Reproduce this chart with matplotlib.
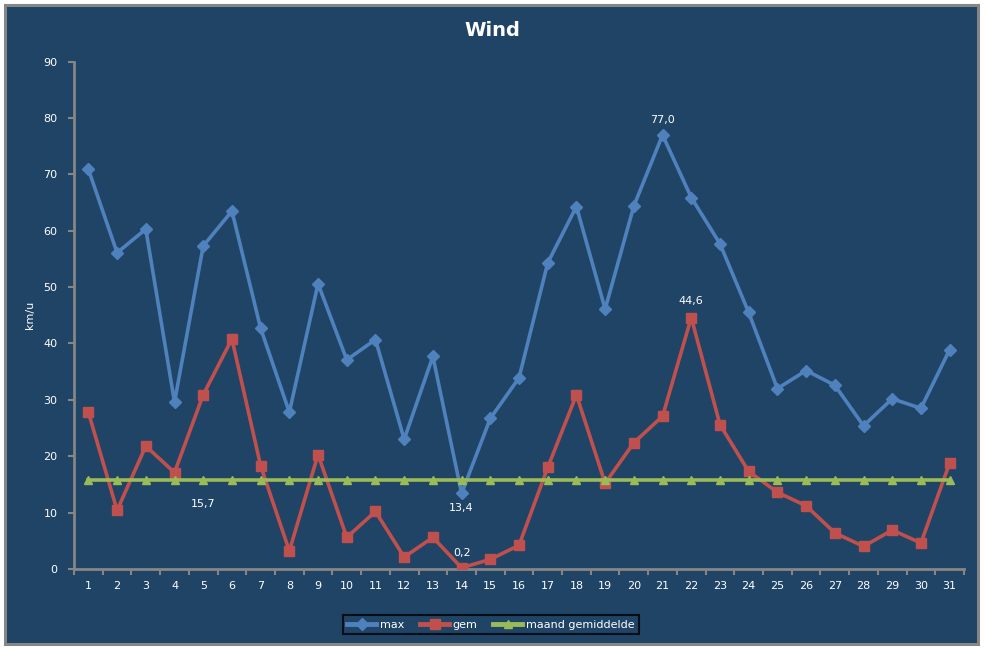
import matplotlib
matplotlib.use("Agg")
import matplotlib.pyplot as plt
from matplotlib.patches import Rectangle

days = list(range(1, 32))
max_wind = [70.9, 56.1, 60.3, 29.6, 57.3, 63.5, 42.7, 27.8, 50.6, 37.1, 40.7, 23.0, 37.7, 13.4, 26.7,
            33.9, 54.3, 64.3, 46.1, 64.4, 77.0, 65.9, 57.7, 45.5, 32.0, 35.2, 32.6, 25.4, 30.2, 28.5, 38.9]
gem_wind = [27.8, 10.4, 21.8, 17.1, 30.9, 40.8, 18.3, 3.2, 20.3, 5.6, 10.2, 2.1, 5.6, 0.2, 1.7,
            4.2, 18.0, 30.9, 15.2, 22.4, 27.1, 44.6, 25.6, 17.3, 13.6, 11.2, 6.4, 4.0, 6.9, 4.6, 18.8]
maand_gem = [15.7] * 31
yticks = [0, 10, 20, 30, 40, 50, 60, 70, 80, 90]

BG = "#1F4466"
BLUE = "#4F81BD"
RED = "#C0504D"
GREEN = "#9BBB59"
GRAY = "#868686"

W, H = 987, 648
fig = plt.figure(figsize=(W / 100, H / 100), dpi=100, facecolor="white")
fig.patches.append(Rectangle((5 / W, 4 / H), 973 / W, 639 / H, transform=fig.transFigure,
                             facecolor=BG, edgecolor=GRAY, linewidth=2.2, zorder=-10))
ax = fig.add_axes([0.075, 0.122, 0.9017, 0.7828])
ax.set_zorder(1)
ax.set_facecolor(BG)

ax.plot(days, max_wind, color=BLUE, lw=2.6, marker="D", ms=6, label="max", zorder=3)
ax.plot(days, gem_wind, color=RED, lw=2.6, marker="s", ms=7.5, label="gem", zorder=4)
ax.plot(days, maand_gem, color=GREEN, lw=2.6, marker="^", ms=6, label="maand gemiddelde", zorder=5)

def fmt(v):
    return f"{v:.1f}".replace(".", ",")

lab = dict(color="white", fontsize=8, ha="center")
ax.annotate(fmt(maand_gem[4]), (days[4], maand_gem[4]), xytext=(0, -13), textcoords="offset points", va="top", **lab)
ax.annotate(fmt(max_wind[13]), (days[13], max_wind[13]), xytext=(0, -7), textcoords="offset points", va="top", **lab)
ax.annotate(fmt(gem_wind[13]), (days[13], gem_wind[13]), xytext=(0, 7), textcoords="offset points", va="bottom", **lab)
ax.annotate(fmt(max_wind[20]), (days[20], max_wind[20]), xytext=(0, 7), textcoords="offset points", va="bottom", **lab)
ax.annotate(fmt(gem_wind[21]), (days[21], gem_wind[21]), xytext=(0, 8), textcoords="offset points", va="bottom", **lab)

ax.set_xlim(0.5, 31.5)
ax.set_ylim(0, 90)
ax.set_yticks(yticks)
ax.set_xticks(days)
ax.set_xticks([d + 0.5 for d in range(0, 32)], minor=True)
ax.tick_params(axis="x", which="major", length=0, pad=9, labelcolor="white", labelsize=8)
ax.tick_params(axis="x", which="minor", length=4, width=1.5, color=GRAY, direction="out")
ax.tick_params(axis="y", length=4, width=1.5, color=GRAY, labelcolor="white", labelsize=8, pad=8, direction="out")
for s in ["top", "right"]:
    ax.spines[s].set_visible(False)
for s in ["left", "bottom"]:
    ax.spines[s].set_color(GRAY)
    ax.spines[s].set_linewidth(2)

ax.set_ylabel("km/u", color="white", fontsize=8, labelpad=6)
fig.text(0.4985, 0.953, "Wind", color="white", fontsize=14, fontweight="bold", ha="center", va="center")

leg = fig.legend(loc="center", bbox_to_anchor=(0.4975, 0.036), ncol=3, frameon=True, fontsize=8,
                 handlelength=2.6, handletextpad=0.35, columnspacing=1.4, borderpad=0.4,
                 fancybox=False, labelcolor="white")
leg.get_frame().set_facecolor(BG)
leg.get_frame().set_edgecolor("black")
leg.get_frame().set_linewidth(1.5)
for h in leg.legend_handles:
    h.set_linewidth(3.5)

fig.savefig("out.png", dpi=100, facecolor="white")
